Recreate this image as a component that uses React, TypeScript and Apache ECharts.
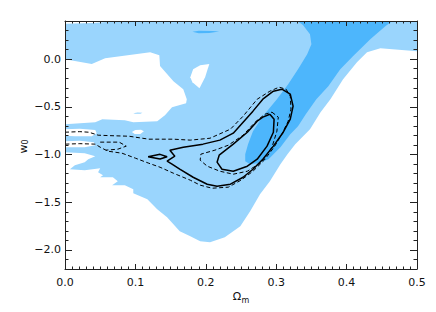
import React, { useEffect, useRef } from "react";
import * as echarts from "echarts";

// ---------- axes ----------
const xMin = 0;
const xMax = 0.5;
const yMin = -2.2;
const yMax = 0.4;
const xTickValues = [0, 0.1, 0.2, 0.3, 0.4, 0.5];
const xTickLabels = ["0.0", "0.1", "0.2", "0.3", "0.4", "0.5"];
const yTickValues = [-2, -1.5, -1, -0.5, 0];
const yTickLabels = ["\u22122.0", "\u22121.5", "\u22121.0", "\u22120.5", "0.0"];
const yMinorValues = [
  -2.1, -1.9, -1.8, -1.7, -1.6, -1.4, -1.3, -1.2, -1.1, -0.9, -0.8, -0.7, -0.6,
  -0.4, -0.3, -0.2, -0.1, 0.1, 0.2, 0.3,
];

// ---------- filled regions (Omega_m, w0) ----------
const lightRegion = [
  [0, 0.37], [0.04, 0.38], [0.067, 0.395], [0.078, 0.4], [0.5, 0.4], [0.5, 0.084],
  [0.448, 0.115], [0.429, 0.073], [0.415, -0.031], [0.395, -0.21], [0.377, -0.42],
  [0.363, -0.556], [0.348, -0.734], [0.327, -0.891], [0.316, -0.996], [0.306, -1.101],
  [0.291, -1.279], [0.277, -1.416], [0.263, -1.594], [0.249, -1.751], [0.227, -1.867],
  [0.206, -1.919], [0.192, -1.909], [0.178, -1.856], [0.163, -1.804], [0.145, -1.657],
  [0.131, -1.573], [0.117, -1.468], [0.097, -1.405], [0.097, -1.363], [0.085, -1.321],
  [0.067, -1.321], [0.075, -1.279], [0.068, -1.238], [0.05, -1.238], [0.054, -1.217],
  [0.047, -1.185], [0.05, -1.143], [0.028, -1.164], [0.007, -1.154], [0.014, -1.112],
  [0.028, -1.08], [0.033, -1.049], [0.043, -1.017], [0.028, -0.986], [0, -0.975],
];
const darkRegion = [
  [0.33, 0.4], [0.465, 0.4], [0.455, 0.346], [0.434, 0.21], [0.409, 0.031],
  [0.391, -0.105], [0.374, -0.283], [0.357, -0.42], [0.342, -0.577], [0.331, -0.703],
  [0.32, -0.787], [0.306, -0.923], [0.289, -1.049], [0.274, -1.091], [0.263, -1.101],
  [0.256, -1.07], [0.256, -0.996], [0.26, -0.891], [0.267, -0.755], [0.281, -0.598],
  [0.301, -0.42], [0.317, -0.262], [0.331, -0.105], [0.344, 0.052], [0.35, 0.157],
  [0.348, 0.262], [0.338, 0.357],
];
const darkSliver = [
  [0.181, 0.288], [0.19, 0.297], [0.21, 0.295], [0.219, 0.29], [0.205, 0.275], [0.19, 0.272],
];
const holeBig = [
  [0, 0], [0.038, -0.052], [0.057, 0.01], [0.121, 0.073], [0.134, 0.042], [0.135, -0.073],
  [0.154, -0.231], [0.168, -0.315], [0.173, -0.42], [0.172, -0.461], [0.152, -0.503],
  [0.142, -0.587], [0.131, -0.65], [0.097, -0.661], [0.085, -0.64], [0.053, -0.629],
  [0.043, -0.661], [0, -0.682],
];
const holeSmall = [
  [0.178, -0.189], [0.182, -0.105], [0.192, -0.063], [0.205, -0.052], [0.199, -0.189],
  [0.191, -0.304], [0.181, -0.241],
];
const holeStreak1 = [
  [0, -0.734], [0.021, -0.729], [0.043, -0.744], [0.045, -0.776], [0.038, -0.808],
  [0.014, -0.808], [0, -0.802],
];
const holeStreak2 = [
  [0, -0.86], [0.021, -0.855], [0.041, -0.87], [0.043, -0.902], [0.028, -0.923], [0, -0.923],
];
const holeLens = [
  [0.095, -0.765], [0.1, -0.742], [0.108, -0.74], [0.112, -0.755], [0.107, -0.785], [0.099, -0.785],
];
const lightPatch = [
  [0.097, -0.566], [0.103, -0.56], [0.11, -0.562], [0.107, -0.572], [0.1, -0.573],
];

// ---------- contours ----------
const solidOuter = [
  [0.308, -0.315], [0.32, -0.367], [0.324, -0.493], [0.32, -0.629], [0.31, -0.766],
  [0.296, -0.912], [0.281, -1.049], [0.267, -1.154], [0.253, -1.238], [0.235, -1.311],
  [0.216, -1.332], [0.202, -1.311], [0.182, -1.238], [0.163, -1.154], [0.152, -1.101],
  [0.145, -1.07], [0.156, -1.017], [0.149, -0.954], [0.168, -0.923], [0.196, -0.891],
  [0.22, -0.849], [0.239, -0.776], [0.253, -0.661], [0.267, -0.545], [0.281, -0.42],
  [0.296, -0.336], [0.308, -0.315],
];
const solidDiamond = [
  [0.118, -1.023], [0.135, -0.998], [0.145, -1.023], [0.135, -1.047], [0.118, -1.023],
];
const solidInner = [
  [0.291, -0.577], [0.297, -0.629], [0.296, -0.766], [0.287, -0.912], [0.273, -1.049],
  [0.259, -1.122], [0.239, -1.175], [0.223, -1.154], [0.216, -1.08], [0.219, -1.007],
  [0.239, -0.891], [0.259, -0.766], [0.273, -0.65], [0.281, -0.608], [0.291, -0.577],
];
const dashedInner = [
  [0.294, -0.556], [0.303, -0.608], [0.301, -0.755], [0.294, -0.923], [0.279, -1.08],
  [0.259, -1.175], [0.239, -1.206], [0.22, -1.175], [0.202, -1.122], [0.192, -1.059],
  [0.193, -0.996], [0.213, -0.954], [0.232, -0.902], [0.253, -0.797], [0.27, -0.661],
  [0.284, -0.577], [0.294, -0.556],
];
const dashedOuter = [
  [0, -0.766], [0.021, -0.76], [0.034, -0.766], [0.047, -0.797], [0.064, -0.802],
  [0.091, -0.808], [0.119, -0.839], [0.154, -0.839], [0.178, -0.849], [0.206, -0.829],
  [0.235, -0.734], [0.253, -0.598], [0.273, -0.42], [0.291, -0.336], [0.304, -0.294],
  [0.314, -0.315], [0.32, -0.388], [0.321, -0.524], [0.317, -0.65], [0.308, -0.787],
  [0.297, -0.923], [0.283, -1.059], [0.267, -1.175], [0.25, -1.269], [0.232, -1.342],
  [0.209, -1.353], [0.192, -1.321], [0.178, -1.269], [0.154, -1.196], [0.135, -1.133],
  [0.119, -1.091], [0.1, -1.038], [0.081, -0.986], [0.061, -0.965], [0.05, -0.923],
  [0.043, -0.891], [0.021, -0.886], [0, -0.891],
];
const dashedIsland = [
  [0.05, -0.87], [0.077, -0.87], [0.087, -0.912], [0.075, -0.944], [0.058, -0.954],
];

const LIGHT = "#9ad5fd";
const DARK = "#4db6fc";
const WHITE = "#ffffff";
const AXIS = "#222222";
const FONT = "DejaVu Sans";

function polySeries(pts: number[][], color: string, z: number) {
  return {
    type: "custom",
    coordinateSystem: "cartesian2d",
    xAxisIndex: 0,
    yAxisIndex: 0,
    silent: true,
    z,
    data: [pts[0]],
    renderItem: (_params: any, api: any) => ({
      type: "polygon",
      shape: { points: pts.map((p) => api.coord(p)) },
      style: { fill: color, stroke: null },
    }),
  };
}

function lineSeries(pts: number[][], dashed: boolean, width: number) {
  return {
    type: "line",
    xAxisIndex: 0,
    yAxisIndex: 0,
    data: pts,
    symbol: "none",
    showSymbol: false,
    smooth: false,
    silent: true,
    z: 10,
    lineStyle: { color: "#000", width, type: dashed ? [4, 2.5] : "solid" },
  };
}

const labelFor = (vals: number[], labels: string[]) => (v: number) => {
  const i = vals.findIndex((t) => Math.abs(t - v) < 1e-6);
  return i >= 0 ? labels[i] : "";
};

export default function App() {
  const ref = useRef<HTMLDivElement>(null);
  useEffect(() => {
    if (!ref.current) return;
    const chart = echarts.init(ref.current, undefined, { renderer: "svg" });
    const lineStyle = { color: AXIS, width: 1 };
    const xBase = {
      type: "value",
      z: 20,
      min: xMin,
      max: xMax,
      interval: 0.1,
      axisLine: { show: true, onZero: false, lineStyle },
      axisTick: { show: true, inside: true, length: 5, lineStyle },
      minorTick: { show: true, splitNumber: 10, length: 2.5, lineStyle },
      splitLine: { show: false },
      minorSplitLine: { show: false },
    };
    const yBase = {
      type: "value",
      z: 20,
      min: yMin,
      max: yMax,
      splitLine: { show: false },
      axisLine: { show: true, onZero: false, lineStyle },
    };
    chart.setOption({
      animation: false,
      backgroundColor: "#fff",
      grid: { left: 65, right: 19, top: 21, bottom: 43, containLabel: false, outerBoundsMode: "none" },
      xAxis: [
        {
          ...xBase,
          position: "bottom",
          axisLabel: {
            show: true,
            margin: 8,
            fontFamily: FONT,
            fontSize: 11,
            color: "#111",
            formatter: labelFor(xTickValues, xTickLabels),
          },
        },
        { ...xBase, position: "top", axisLabel: { show: false } },
      ],
      yAxis: [
        {
          ...yBase,
          position: "left",
          axisTick: { show: true, inside: true, length: 7, lineStyle, customValues: yTickValues },
          axisLabel: {
            show: true,
            margin: 4,
            fontFamily: FONT,
            fontSize: 11,
            color: "#111",
            customValues: yTickValues,
            formatter: labelFor(yTickValues, yTickLabels),
          },
        },
        {
          ...yBase,
          position: "left",
          axisLine: { show: false, onZero: false },
          axisTick: { show: true, inside: true, length: 3.5, lineStyle, customValues: yMinorValues },
          axisLabel: { show: false },
        },
        {
          ...yBase,
          position: "right",
          axisTick: { show: true, inside: true, length: 7, lineStyle, customValues: yTickValues },
          axisLabel: { show: false },
        },
        {
          ...yBase,
          position: "right",
          axisLine: { show: false, onZero: false },
          axisTick: { show: true, inside: true, length: 3.5, lineStyle, customValues: yMinorValues },
          axisLabel: { show: false },
        },
      ],
      graphic: [
        {
          type: "text",
          x: 237,
          y: 296,
          style: { text: "\u03A9", fontFamily: FONT, fontSize: 11, fill: "#111", textAlign: "center", textVerticalAlign: "middle" },
        },
        {
          type: "text",
          x: 241.5,
          y: 300,
          style: { text: "m", fontFamily: FONT, fontSize: 8, fill: "#111", textAlign: "left", textVerticalAlign: "middle" },
        },
        {
          type: "text",
          x: 23,
          y: 149,
          rotation: Math.PI / 2,
          style: { text: "w", fontFamily: FONT, fontSize: 11, fill: "#111", textAlign: "center", textVerticalAlign: "middle" },
        },
        {
          type: "text",
          x: 25,
          y: 142,
          rotation: Math.PI / 2,
          style: { text: "0", fontFamily: FONT, fontSize: 8, fill: "#111", textAlign: "center", textVerticalAlign: "middle" },
        },
      ],
      series: [
        polySeries(lightRegion, LIGHT, 1),
        polySeries(darkRegion, DARK, 2),
        polySeries(darkSliver, DARK, 2),
        polySeries(holeBig, WHITE, 3),
        polySeries(holeSmall, WHITE, 3),
        polySeries(holeStreak1, WHITE, 3),
        polySeries(holeStreak2, WHITE, 3),
        polySeries(holeLens, WHITE, 3),
        polySeries(lightPatch, LIGHT, 4),
        lineSeries(dashedOuter, true, 1),
        lineSeries(dashedInner, true, 1),
        lineSeries(dashedIsland, true, 1),
        lineSeries(solidOuter, false, 1.5),
        lineSeries(solidInner, false, 1.5),
        lineSeries(solidDiamond, false, 1.5),
      ],
    });
    return () => chart.dispose();
  }, []);
  return (
    <div
      ref={ref}
      style={{ position: "absolute", left: 0, top: 0, width: 436, height: 312 }}
    />
  );
}
